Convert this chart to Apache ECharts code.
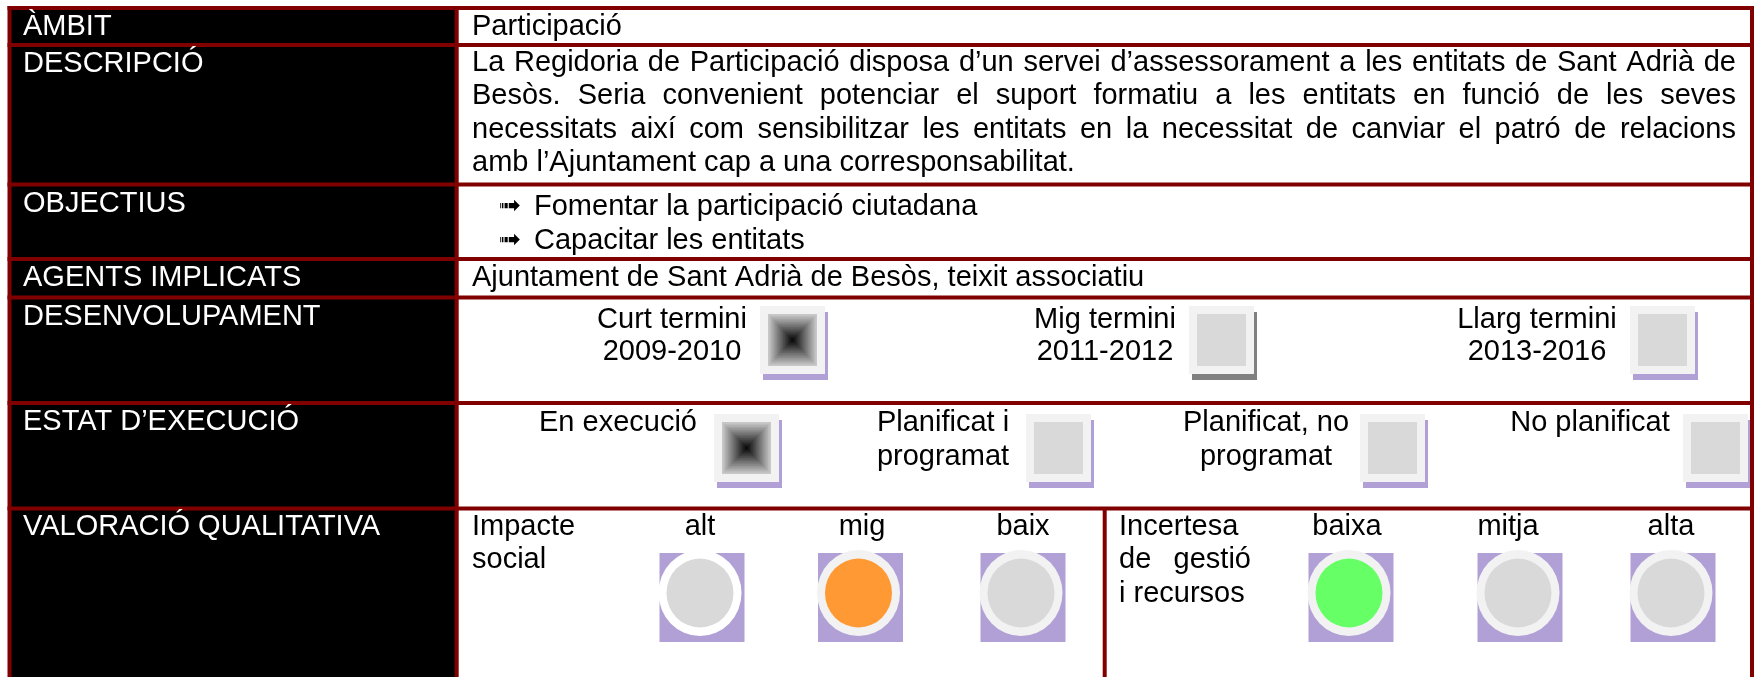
<!DOCTYPE html>
<html>
<head>
<meta charset="utf-8">
<script src="https://cdn.jsdelivr.net/npm/echarts@6/dist/echarts.min.js"></script>
<style>
html,body{margin:0;padding:0;background:#ffffff;}
#chart{width:1754px;height:677px;}
</style>
</head>
<body>
<div id="chart"></div>
<script>
// ---------- DATA ----------
const rowLabels = ['ÀMBIT', 'DESCRIPCIÓ', 'OBJECTIUS', 'AGENTS IMPLICATS', 'DESENVOLUPAMENT', 'ESTAT D’EXECUCIÓ', 'VALORACIÓ QUALITATIVA'];
const ambit = 'Participació';
const descripcioLines = [
  'La Regidoria de Participació disposa d’un servei d’assessorament a les entitats de Sant Adrià de',
  'Besòs. Seria convenient potenciar el suport formatiu a les entitats en funció de les seves',
  'necessitats així com sensibilitzar les entitats en la necessitat de canviar el patró de relacions',
  'amb l’Ajuntament cap a una corresponsabilitat.'
];
const objectius = ['Fomentar la participació ciutadana', 'Capacitar les entitats'];
const bulletGlyph = '➟';
const agents = 'Ajuntament de Sant Adrià de Besòs, teixit associatiu';
const terminis = [['Curt termini', '2009-2010'], ['Mig termini', '2011-2012'], ['Llarg termini', '2013-2016']];
const terminiSelected = 0;
const estats = [['En execució'], ['Planificat i', 'programat'], ['Planificat, no', 'programat'], ['No planificat']];
const estatSelected = 0;
const impacteLabel = ['Impacte', 'social'];
const impacteLevels = ['alt', 'mig', 'baix'];
const impacteSelected = 1;
const incertesaLabel = ['Incertesa', 'de gestió', 'i recursos'];
const incertesaLevels = ['baixa', 'mitja', 'alta'];
const incertesaSelected = 0;

// ---------- LAYOUT & STYLE ----------
const FONT = '"Liberation Sans", Arial, Helvetica, sans-serif';
const FS = 29;
const RED = '#800000';
const PURPLE = '#b1a0d6';
const rowLineY = [8, 45, 184.5, 259, 297.5, 403, 508.5];
const labelY = [26.5, 64, 204, 278, 317, 422, 527];
const LINE = 33.3;
const colX = 456.7, textX = 472, textRight = 1736;
const terminiTextX = [672, 1105, 1537];
const terminiBoxX = [760, 1189, 1630];
const terminiShadow = [PURPLE, '#808080', PURPLE];
const terminiY = [320, 352], terminiBoxY = 306;
const estatTextX = [618, 943, 1266, 1590];
const estatBoxX = [714, 1026, 1360, 1683];
const estatY = [423, 457], estatBoxY = 414;
const impacteLabelX = [700, 862, 1023], impacteCircleX = [700, 858.5, 1021];
const incertesaLabelX = [1347, 1508, 1671], incertesaCircleX = [1349, 1518, 1671];
const levelColors = ['#66ff66', '#ff9933', '#ff3333'];
const impacteRing = ['#ffffff', '#f2f2f2', '#f2f2f2'];
const incertesaRing = ['#f2f2f2', '#f2f2f2', '#f2f2f2'];

const els = [];
const measure = document.createElement('canvas').getContext('2d');
measure.font = FS + 'px ' + FONT;

function txt(s, x, y, opt) {
  opt = opt || {};
  const al = opt.align || 'left';
  els.push({
    type: 'text', x: x, y: y, z: 10,
    style: {
      text: s, fill: opt.color || '#000000', fontSize: opt.size || FS, fontFamily: opt.family || FONT,
      fontWeight: opt.weight || 'normal',
      align: al, textAlign: al, verticalAlign: 'middle', textVerticalAlign: 'middle'
    }
  });
}
function rect(x, y, w, h, fill, z) {
  els.push({ type: 'rect', z: z || 1, shape: { x: x, y: y, width: w, height: h }, style: { fill: fill } });
}
function justify(s, x0, x1, y) {
  const words = s.split(' ');
  const widths = words.map(w => measure.measureText(w).width);
  const total = widths.reduce((a, b) => a + b, 0);
  const gap = (x1 - x0 - total) / (words.length - 1);
  let x = x0;
  words.forEach((w, i) => { txt(w, x, y); x += widths[i] + gap; });
}
function ellipse(cx, cy, rx, ry, fill, z) {
  els.push({ type: 'circle', x: cx, y: cy, scaleY: ry / rx, z: z, shape: { cx: 0, cy: 0, r: rx }, style: { fill: fill } });
}
function box(x, y, selected, shadow) {
  const W = 65, H = 68;
  rect(x + 3, y + 6, W, H, shadow, 2);
  rect(x, y, W, H, '#f2f2f2', 3);
  const ix = x + 8, iy = y + 8, iw = W - 16, ih = H - 16;
  if (!selected) { rect(ix, iy, iw, ih, '#d9d9d9', 4); return; }
  const N = 16;
  for (let k = 0; k < N; k++) {
    const t = k / N;
    const g = Math.round(200 * (1 - t));
    const dx = t * iw / 2, dy = t * ih / 2;
    rect(ix + dx, iy + dy, iw - 2 * dx, ih - 2 * dy, 'rgb(' + g + ',' + g + ',' + g + ')', 4 + k);
  }
}
function light(cx, on, ring, color) {
  rect(cx - 40.5, 553, 85, 89, PURPLE, 2);
  ellipse(cx, 593, 41.5, 43, ring, 3);
  ellipse(cx, 593, 33.5, 34.5, on ? color : '#d9d9d9', 4);
}

// backgrounds
rect(9, 8, colX - 9, 677 - 8, '#000000', 0);
// borders
const T = 4;
rowLineY.forEach(y => rect(7.5, y - T / 2, 1746, T, RED, 5));
rect(7.5, rowLineY[0] - T / 2, T, 677, RED, 5);
rect(colX - T / 2, rowLineY[0] - T / 2, T, 677, RED, 5);
rect(1750, rowLineY[0] - T / 2, T, 677, RED, 5);
rect(1104.7 - T / 2, rowLineY[6], T, 677 - rowLineY[6], RED, 5);

// left labels
rowLabels.forEach((l, i) => txt(l, 23, labelY[i], { color: '#ffffff' }));

// ambit
txt(ambit, textX, 26.5);
// descripcio
descripcioLines.forEach((l, i) => {
  const y = 63 + i * LINE;
  if (i < descripcioLines.length - 1) justify(l, textX, textRight, y); else txt(l, textX, y);
});
// objectius
objectius.forEach((o, i) => {
  const y = 207 + i * 34;
  txt(bulletGlyph, 510, y, { align: 'center', size: 27, weight: 'bold', family: '"DejaVu Sans", sans-serif' });
  txt(o, 534, y);
});
// agents
txt(agents, textX, 278);
// desenvolupament
terminis.forEach((t, i) => {
  t.forEach((s, j) => txt(s, terminiTextX[i], terminiY[j], { align: 'center' }));
  box(terminiBoxX[i], terminiBoxY, i === terminiSelected, terminiShadow[i]);
});
// estat
estats.forEach((t, i) => {
  t.forEach((s, j) => txt(s, estatTextX[i], estatY[j], { align: 'center' }));
  box(estatBoxX[i], estatBoxY, i === estatSelected, PURPLE);
});
// valoracio
impacteLabel.forEach((s, j) => txt(s, textX, 527 + j * LINE));
impacteLevels.forEach((s, i) => {
  txt(s, impacteLabelX[i], 527, { align: 'center' });
  light(impacteCircleX[i], i === impacteSelected, impacteRing[i], levelColors[i]);
});
incertesaLabel.forEach((s, j) => {
  const y = 527 + j * LINE;
  if (j === 1) justify(s, 1119, 1251, y); else txt(s, 1119, y);
});
incertesaLevels.forEach((s, i) => {
  txt(s, incertesaLabelX[i], 527, { align: 'center' });
  light(incertesaCircleX[i], i === incertesaSelected, incertesaRing[i], levelColors[i]);
});

const chart = echarts.init(document.getElementById('chart'), null, { renderer: 'canvas' });
chart.setOption({
  backgroundColor: '#ffffff',
  animation: false,
  graphic: { elements: els }
});
</script>
</body>
</html>
